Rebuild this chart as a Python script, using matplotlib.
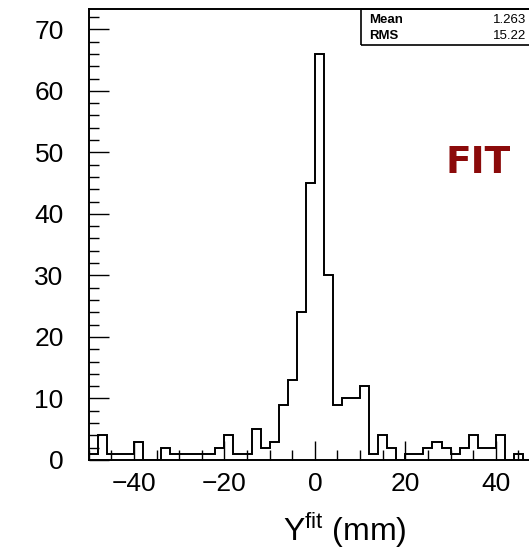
import numpy as np
import matplotlib
matplotlib.use('Agg')
from matplotlib import pyplot as plt
from matplotlib.ticker import MultipleLocator

matplotlib.rcParams['font.family'] = ['Liberation Sans', 'DejaVu Sans']
matplotlib.rcParams['mathtext.fontset'] = 'custom'
matplotlib.rcParams['mathtext.rm'] = 'Liberation Sans'
matplotlib.rcParams['axes.unicode_minus'] = True

#%% Inputs
bin_lo = -50
bin_hi = 50
n_bins = 50
counts = [1, 4, 1, 1, 1, 3, 0, 0, 2, 1,
          1, 1, 1, 1, 2, 4, 1, 1, 5, 2,
          3, 9, 13, 24, 45, 66, 30, 9, 10, 10,
          12, 1, 4, 2, 0, 1, 1, 2, 3, 2,
          1, 2, 4, 2, 2, 4, 0, 1, 0, 0]
stat_names = ['Mean', 'RMS']
stat_values = ['1.263', '15.22']
xlabel = r'Y$^{\rm fit}$ (mm)'
tag = 'FIT'

#%% Plot
edges = np.linspace(bin_lo, bin_hi, n_bins + 1)

fig = plt.figure(figsize=(5.29, 5.55), dpi=100)
ax = fig.add_axes([0.1677, 0.1712, 0.855, 0.8126])

ax.stairs(counts, edges, color='k', linewidth=1.4, baseline=0)

ax.set_xlim(bin_lo, bin_hi)
ax.set_ylim(0, 73.3)
ax.xaxis.set_major_locator(MultipleLocator(20))
ax.xaxis.set_minor_locator(MultipleLocator(5))
ax.yaxis.set_major_locator(MultipleLocator(10))
ax.yaxis.set_minor_locator(MultipleLocator(2))
ax.tick_params(which='both', direction='in', width=1.0, top=False, right=False)
ax.tick_params(axis='y', which='major', length=14.4, labelsize=19, pad=18)
ax.tick_params(axis='y', which='minor', length=7.2)
ax.tick_params(axis='x', which='major', length=13.7, labelsize=19, pad=9)
ax.tick_params(axis='x', which='minor', length=7.2)
for sp in ax.spines.values():
    sp.set_linewidth(1.4)

ax.set_xlabel(xlabel, fontsize=23)
ax.xaxis.set_label_coords(0.566, -0.112)

# stats box in the upper right corner
ax.add_patch(plt.Rectangle((0.601, 0.92), 0.5, 0.08, transform=ax.transAxes,
                           fill=False, edgecolor='k', linewidth=1.2, clip_on=False))
for name, val, y in zip(stat_names, stat_values, [0.976, 0.94]):
    ax.text(0.62, y, name, transform=ax.transAxes, fontsize=9.5, fontweight='bold',
            ha='left', va='center')
    ax.text(0.968, y, val, transform=ax.transAxes, fontsize=9.5,
            ha='right', va='center')

ax.text(0.86, 0.658, tag, transform=ax.transAxes, fontsize=27, fontweight='bold',
        color='#8b0a0a', family='DejaVu Sans', ha='center', va='center')

plt.savefig('out.png', dpi=100)
